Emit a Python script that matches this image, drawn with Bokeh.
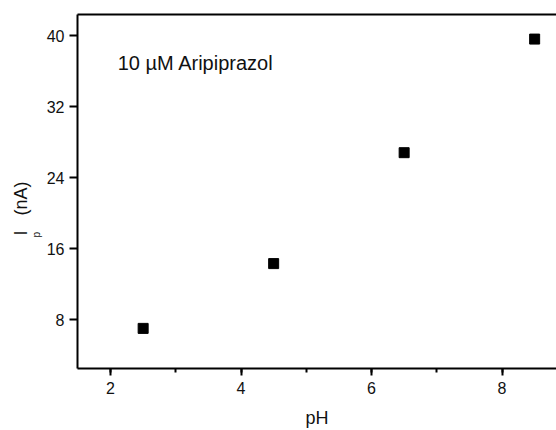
import math
from bokeh.plotting import figure
from bokeh.models import (Range1d, SingleIntervalTicker, LinearAxis, FixedTicker, Label, Title)
from bokeh.embed import file_html
from bokeh.resources import INLINE

ph = [2.5, 4.5, 6.5, 8.5]
ip = [7.0, 14.3, 26.8, 39.6]
x_ticks_interval = 2
y_ticks_interval = 8
annotation = "10 µM Aripiprazol"
x_label = "pH"
y_label_main = "I\u00a0\u00a0\u00a0(nA)"
y_label_sub = "p"

FONT = "Liberation Sans"
TXT = "#111111"

p = figure(width=556, height=430, output_backend="svg", toolbar_location=None,
           x_range=Range1d(1.494, 8.835), y_range=Range1d(2.48, 42.37),
           min_border_left=77, min_border_top=14, min_border_right=0, min_border_bottom=62,
           x_axis_location=None, y_axis_location=None)
p.outline_line_color = None
p.xgrid.visible = False
p.ygrid.visible = False
p.background_fill_color = "white"
p.border_fill_color = "white"

xaxis = LinearAxis(ticker=SingleIntervalTicker(interval=x_ticks_interval, num_minor_ticks=2),
                   axis_label=x_label)
yaxis = LinearAxis(ticker=SingleIntervalTicker(interval=y_ticks_interval, num_minor_ticks=0))
topaxis = LinearAxis(ticker=FixedTicker(ticks=[]))

for ax in (xaxis, yaxis, topaxis):
    ax.axis_line_width = 2
    ax.axis_line_color = "black"
    ax.major_tick_line_width = 2
    ax.minor_tick_line_width = 2
    ax.major_tick_in = 0
    ax.minor_tick_in = 0
    ax.major_label_text_font = FONT
    ax.major_label_text_font_size = "16px"
    ax.major_label_text_color = TXT
    ax.axis_label_text_font = FONT
    ax.axis_label_text_font_style = "normal"
    ax.axis_label_text_font_size = "18px"
    ax.axis_label_text_color = TXT

xaxis.major_tick_out = 7
xaxis.minor_tick_out = 4
xaxis.major_label_standoff = 6
xaxis.axis_label_standoff = 11
yaxis.major_tick_out = 8
yaxis.major_label_standoff = 5

topaxis.major_tick_out = 0
topaxis.minor_tick_out = 0
topaxis.major_label_text_font_size = "0px"
topaxis.major_label_standoff = 0

p.add_layout(xaxis, "below")
p.add_layout(yaxis, "left")
p.add_layout(topaxis, "above")

p.scatter(ph, ip, marker="square", size=10, color="black")

p.add_layout(Label(x=2.11, y=36.9, text=annotation, text_font=FONT,
                   text_font_size="20px", text_color=TXT, text_baseline="alphabetic"))

sub_title = Title(text=y_label_sub, align="left", offset=131, standoff=0,
                  vertical_align="top",
                  text_font=FONT, text_font_size="10px", text_font_style="normal",
                  text_color=TXT)
main_title = Title(text=y_label_main, align="left", offset=133, standoff=0,
                   text_font=FONT, text_font_size="18px", text_font_style="normal",
                   text_color=TXT)
p.add_layout(sub_title, "left")
p.add_layout(main_title, "left")

open("out.html", "w").write(file_html(p, INLINE))
